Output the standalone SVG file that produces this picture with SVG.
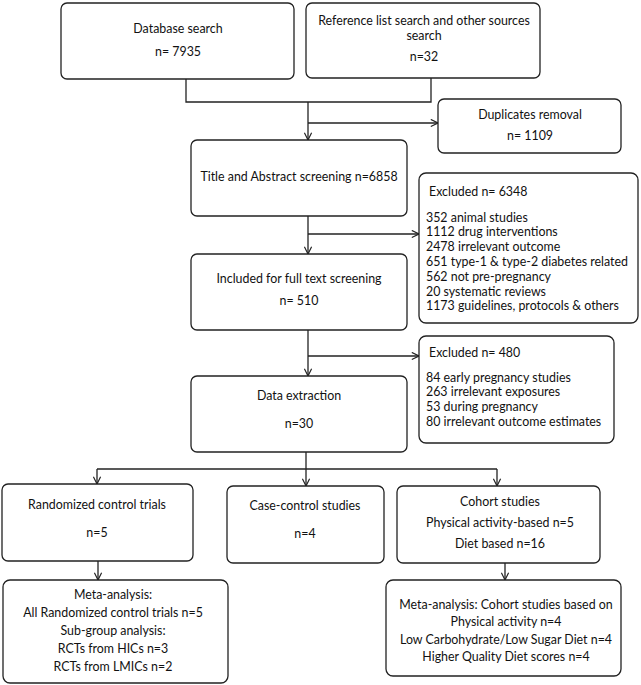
<svg xmlns="http://www.w3.org/2000/svg" width="641" height="685" viewBox="0 0 641 685">
<defs>
<marker id="arr" viewBox="0 0 10 10" refX="9" refY="5" markerWidth="9" markerHeight="9" markerUnits="userSpaceOnUse" orient="auto">
<polyline points="1,1 9,5 1,9" fill="none" stroke="#222" stroke-width="1.3"/>
</marker>
<style>
.box{fill:#fff;stroke:#222;stroke-width:1.3}
.t{font-family:Lato,"Liberation Sans",sans-serif;font-size:12.4px;fill:#111;text-anchor:middle;dominant-baseline:central}
.l{text-anchor:start}
.c{fill:none;stroke:#222;stroke-width:1.3}
</style>
</defs>
<rect width="641" height="685" fill="#fff"/>
<g id="connectors">
<path class="c" d="M186 79 V102 H431 V78"/>
<path class="c" d="M308 102 V140" marker-end="url(#arr)"/>
<path class="c" d="M308 123 H438" marker-end="url(#arr)"/>
<path class="c" d="M308 216 V254" marker-end="url(#arr)"/>
<path class="c" d="M308 234 H419" marker-end="url(#arr)"/>
<path class="c" d="M308 330 V376" marker-end="url(#arr)"/>
<path class="c" d="M308 356 H419" marker-end="url(#arr)"/>
<path class="c" d="M306 452 V469"/>
<path class="c" d="M97 469 H497"/>
<path class="c" d="M97 469 V484" marker-end="url(#arr)"/>
<path class="c" d="M306 469 V486" marker-end="url(#arr)"/>
<path class="c" d="M497 469 V486" marker-end="url(#arr)"/>
<path class="c" d="M98 561 V580" marker-end="url(#arr)"/>
<path class="c" d="M505 563 V580" marker-end="url(#arr)"/>
</g>
<g id="db">
<rect class="box" x="61" y="3" width="233" height="76" rx="6"/>
<text class="t" x="178" y="28">Database search</text>
<text class="t" x="178" y="51">n= 7935</text>
</g>
<g id="ref">
<rect class="box" x="306" y="3" width="234" height="75" rx="6"/>
<text class="t" x="424" y="20">Reference list search and other sources</text>
<text class="t" x="424" y="35">search</text>
<text class="t" x="424" y="56">n=32</text>
</g>
<g id="dup">
<rect class="box" x="438" y="99" width="183" height="54" rx="6"/>
<text class="t" x="530" y="114">Duplicates removal</text>
<text class="t" x="530" y="135">n= 1109</text>
</g>
<g id="title">
<rect class="box" x="191" y="140" width="216" height="76" rx="6"/>
<text class="t" x="299" y="176">Title and Abstract screening n=6858</text>
</g>
<g id="excl1">
<rect class="box" x="419" y="173" width="219" height="150" rx="7"/>
<text class="t l" x="429" y="191">Excluded n= 6348</text>
<text class="t l" x="426" y="217">352 animal studies</text>
<text class="t l" x="426" y="231.8">1112 drug interventions</text>
<text class="t l" x="426" y="246.6">2478 irrelevant outcome</text>
<text class="t l" x="426" y="261.4">651 type-1 &amp; type-2 diabetes related</text>
<text class="t l" x="426" y="276.2">562 not pre-pregnancy</text>
<text class="t l" x="426" y="291">20 systematic reviews</text>
<text class="t l" x="426" y="305.8">1173 guidelines, protocols &amp; others</text>
</g>
<g id="incl">
<rect class="box" x="191" y="254" width="216" height="76" rx="6"/>
<text class="t" x="299" y="278">Included for full text screening</text>
<text class="t" x="299" y="300">n= 510</text>
</g>
<g id="excl2">
<rect class="box" x="419" y="336" width="195" height="107" rx="7"/>
<text class="t l" x="429" y="352">Excluded n= 480</text>
<text class="t l" x="426" y="377">84 early pregnancy studies</text>
<text class="t l" x="426" y="391.8">263 irrelevant exposures</text>
<text class="t l" x="426" y="406.6">53 during pregnancy</text>
<text class="t l" x="426" y="421.4">80 irrelevant outcome estimates</text>
</g>
<g id="data">
<rect class="box" x="191" y="376" width="216" height="76" rx="6"/>
<text class="t" x="299" y="395">Data extraction</text>
<text class="t" x="299" y="423">n=30</text>
</g>
<g id="rct">
<rect class="box" x="2" y="484" width="191" height="77" rx="6"/>
<text class="t" x="97" y="504">Randomized control trials</text>
<text class="t" x="97" y="532">n=5</text>
</g>
<g id="case">
<rect class="box" x="227" y="486" width="157" height="77" rx="6"/>
<text class="t" x="305" y="505">Case-control studies</text>
<text class="t" x="305" y="533">n=4</text>
</g>
<g id="cohort">
<rect class="box" x="397" y="486" width="203" height="77" rx="6"/>
<text class="t" x="500" y="501">Cohort studies</text>
<text class="t" x="500" y="522">Physical activity-based n=5</text>
<text class="t" x="500" y="543">Diet based n=16</text>
</g>
<g id="meta-rct">
<rect class="box" x="3" y="580" width="225" height="103" rx="7"/>
<text class="t" x="113" y="594">Meta-analysis:</text>
<text class="t" x="113" y="612">All Randomized control trials n=5</text>
<text class="t" x="113" y="630">Sub-group analysis:</text>
<text class="t" x="113" y="648">RCTs from HICs n=3</text>
<text class="t" x="113" y="666">RCTs from LMICs n=2</text>
</g>
<g id="meta-cohort">
<rect class="box" x="386" y="580" width="235" height="96" rx="7"/>
<text class="t" x="506" y="604">Meta-analysis: Cohort studies based on</text>
<text class="t" x="506" y="621.5">Physical activity n=4</text>
<text class="t" x="506" y="639">Low Carbohydrate/Low Sugar Diet n=4</text>
<text class="t" x="506" y="656">Higher Quality Diet scores n=4</text>
</g>
</svg>
